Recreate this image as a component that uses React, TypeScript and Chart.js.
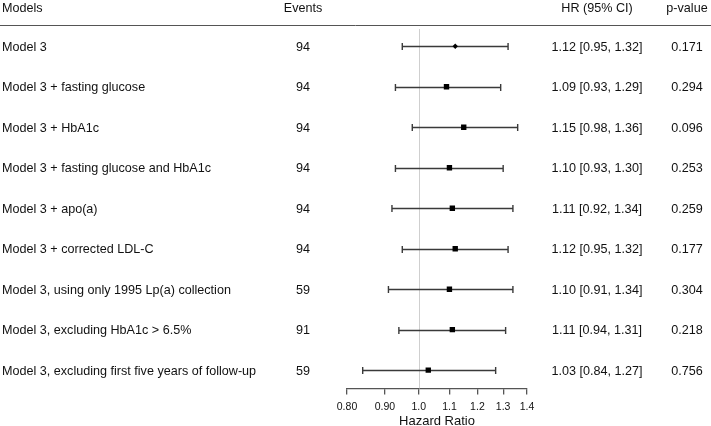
import React, { useEffect, useRef } from 'react';
import { Chart, registerables } from 'chart.js';

Chart.register(...registerables);

const models = [
  'Model 3',
  'Model 3 + fasting glucose',
  'Model 3 + HbA1c',
  'Model 3 + fasting glucose and HbA1c',
  'Model 3 + apo(a)',
  'Model 3 + corrected LDL-C',
  'Model 3, using only 1995 Lp(a) collection',
  'Model 3, excluding HbA1c > 6.5%',
  'Model 3, excluding first five years of follow-up',
];
const events = [94, 94, 94, 94, 94, 94, 59, 91, 59];
const hr = [1.12, 1.09, 1.15, 1.1, 1.11, 1.12, 1.1, 1.11, 1.03];
const lower = [0.95, 0.93, 0.98, 0.93, 0.92, 0.95, 0.91, 0.94, 0.84];
const upper = [1.32, 1.29, 1.36, 1.3, 1.34, 1.32, 1.34, 1.31, 1.27];
const pValues = ['0.171', '0.294', '0.096', '0.253', '0.259', '0.177', '0.304', '0.218', '0.756'];
const xTicks = [0.8, 0.9, 1.0, 1.1, 1.2, 1.3, 1.4];
const xTickLabels = ['0.80', '0.90', '1.0', '1.1', '1.2', '1.3', '1.4'];
const headers = ['Models', 'Events', 'HR (95% CI)', 'p-value'];

const FONT = '"Liberation Sans", Arial, Helvetica, sans-serif';
const fmt = (v: number) => v.toFixed(2);

export default function App() {
  const ref = useRef<HTMLCanvasElement>(null);

  useEffect(() => {
    if (!ref.current) return;

    const forestPlugin = {
      id: 'forestPlugin',
      beforeDatasetsDraw(chart: any) {
        const { ctx, chartArea, scales } = chart;
        const x = scales.x;
        const y = scales.y;
        ctx.save();
        // reference line at HR = 1
        const xr = Math.round(x.getPixelForValue(1)) + 0.5;
        ctx.strokeStyle = '#cfcfcf';
        ctx.lineWidth = 1;
        ctx.beginPath();
        ctx.moveTo(xr, chartArea.top + 3);
        ctx.lineTo(xr, chartArea.bottom);
        ctx.stroke();
        // confidence intervals
        ctx.strokeStyle = '#3a3a3a';
        ctx.lineWidth = 1.4;
        hr.forEach((_, i) => {
          const yy = Math.round(y.getPixelForValue(i)) + 0.5;
          const x1 = x.getPixelForValue(lower[i]);
          const x2 = x.getPixelForValue(upper[i]);
          ctx.beginPath();
          ctx.moveTo(x1, yy);
          ctx.lineTo(x2, yy);
          ctx.moveTo(x1, yy - 3.5);
          ctx.lineTo(x1, yy + 3.5);
          ctx.moveTo(x2, yy - 3.5);
          ctx.lineTo(x2, yy + 3.5);
          ctx.stroke();
        });
        ctx.restore();
      },
      afterDraw(chart: any) {
        const { ctx, scales, width } = chart;
        const y = scales.y;
        ctx.save();
        ctx.fillStyle = '#111111';
        ctx.font = `12.6px ${FONT}`;
        ctx.textBaseline = 'middle';
        // headers
        const hy = 8.5;
        ctx.textAlign = 'left';
        ctx.fillText(headers[0], 2, hy);
        ctx.textAlign = 'center';
        ctx.fillText(headers[1], 303, hy);
        ctx.fillText(headers[2], 597, hy);
        ctx.fillText(headers[3], 687, hy);
        // header rule
        ctx.strokeStyle = '#555555';
        ctx.lineWidth = 1;
        ctx.beginPath();
        ctx.moveTo(0, 25.5);
        ctx.lineTo(width, 25.5);
        ctx.stroke();
        // rows
        models.forEach((m, i) => {
          const yy = y.getPixelForValue(i) + 1;
          ctx.textAlign = 'left';
          ctx.fillText(m, 2, yy);
          ctx.textAlign = 'center';
          ctx.fillText(String(events[i]), 303, yy);
          ctx.fillText(`${fmt(hr[i])} [${fmt(lower[i])}, ${fmt(upper[i])}]`, 597, yy);
          ctx.fillText(pValues[i], 687, yy);
        });
        ctx.restore();
      },
    };

    const chart = new Chart(ref.current, {
      type: 'scatter',
      data: {
        datasets: [
          {
            data: hr.map((v, i) => ({ x: v, y: i })),
            pointStyle: hr.map((_, i) => (i === 0 ? 'rectRot' : 'rect')) as any,
            pointRadius: hr.map((_, i) => (i === 0 ? 2.7 : 3.8)),
            backgroundColor: '#000000',
            borderColor: '#000000',
            borderWidth: 0,
          },
        ],
      },
      options: {
        animation: false,
        responsive: true,
        maintainAspectRatio: false,
        layout: { padding: { left: 347, right: 184, top: 26, bottom: -2 } },
        plugins: { legend: { display: false }, tooltip: { enabled: false } },
        scales: {
          x: {
            type: 'logarithmic',
            min: 0.8,
            max: 1.4,
            afterBuildTicks: (scale: any) => {
              scale.ticks = xTicks.map((v) => ({ value: v }));
            },
            ticks: {
              autoSkip: false,
              maxRotation: 0,
              padding: 6,
              color: '#111111',
              font: { family: FONT, size: 10.5 },
              callback: (value: any) => {
                const idx = xTicks.findIndex((t) => Math.abs(t - Number(value)) < 1e-9);
                return idx >= 0 ? xTickLabels[idx] : '';
              },
            },
            grid: {
              drawOnChartArea: false,
              drawTicks: true,
              tickLength: 6,
              color: '#555555',
              lineWidth: 1.3,
            },
            border: { display: true, color: '#555555', width: 1.3 },
            title: {
              display: true,
              text: 'Hazard Ratio',
              color: '#111111',
              font: { family: FONT, size: 13, lineHeight: 1 },
              padding: { top: -4, bottom: 0 },
            },
          },
          y: {
            type: 'linear',
            display: false,
            reverse: true,
            min: -0.5,
            max: 8.45,
          },
        },
      },
      plugins: [forestPlugin],
    });

    return () => chart.destroy();
  }, []);

  return (
    <div style={{ position: 'fixed', left: 0, top: 0, width: 711, height: 426, background: '#ffffff' }}>
      <canvas ref={ref} />
    </div>
  );
}
